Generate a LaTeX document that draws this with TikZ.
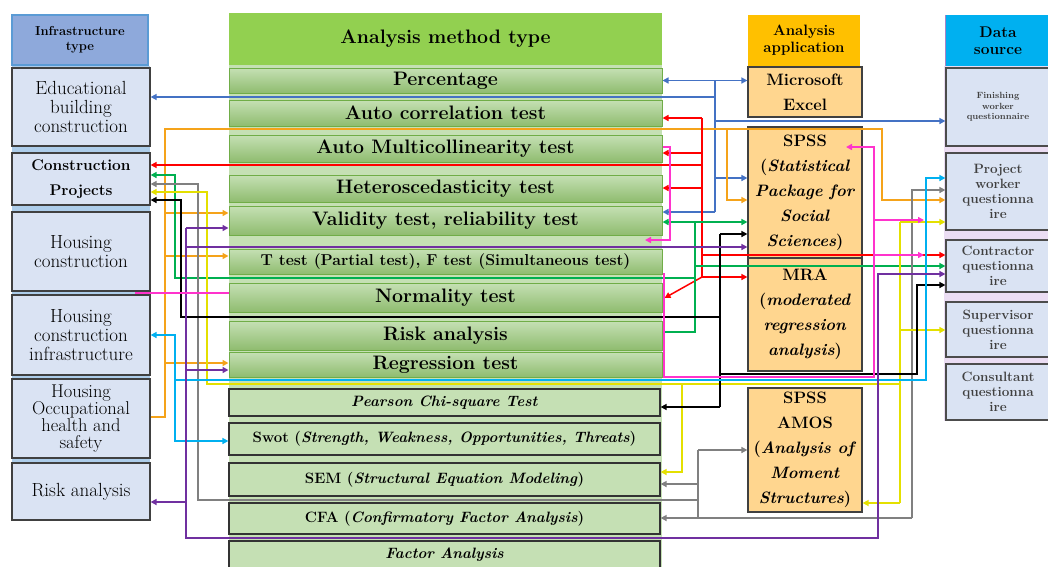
\documentclass[tikz,border=0pt]{standalone}
\usepackage{fontspec}
\usetikzlibrary{arrows.meta}
\definecolor{cBlue}{HTML}{4472C4}
\definecolor{cOrange}{HTML}{F5A31A}
\definecolor{cRed}{HTML}{FF0000}
\definecolor{cGreen}{HTML}{00B050}
\definecolor{cGray}{HTML}{808080}
\definecolor{cYellow}{HTML}{E4E000}
\definecolor{cCyan}{HTML}{00B0F0}
\definecolor{cPurple}{HTML}{7030A0}
\definecolor{cPink}{HTML}{FF33CC}
\definecolor{lblue}{HTML}{DAE3F3}
\definecolor{hblue}{HTML}{8EA9DB}
\definecolor{hblueD}{HTML}{5B9BD5}
\definecolor{hgreen}{HTML}{92D050}
\definecolor{mtop}{HTML}{C5E0B4}
\definecolor{mbot}{HTML}{8FBC6F}
\definecolor{mborder}{HTML}{70AD47}
\definecolor{lgreen}{HTML}{C5E0B4}
\definecolor{hgold}{HTML}{FFC000}
\definecolor{peach}{HTML}{FFD68F}
\definecolor{lav}{HTML}{EBDDF3}
\definecolor{dtext}{HTML}{404040}
\begin{document}
\begin{tikzpicture}[x=1pt,y=-1pt,
  hdr/.style={align=center, inner sep=1pt},
  lbox/.style={draw=black!75, line width=1.2pt, fill=lblue, align=center, inner sep=1pt,
    minimum width=138pt, font=\fontsize{19}{19}\selectfont},
  mbox/.style={draw=mborder, line width=1pt, top color=mtop, bottom color=mbot,
    minimum width=433pt, inner sep=1pt, font=\bfseries\fontsize{19.5}{21}\selectfont},
  lowbox/.style={draw=black!80, line width=1.2pt, fill=lgreen, minimum width=431pt,
    inner sep=1pt, font=\bfseries\fontsize{15}{17}\selectfont},
  abox/.style={draw=black!75, line width=1.2pt, fill=peach, minimum width=114pt, align=center,
    inner sep=1pt, font=\bfseries\fontsize{16.5}{25}\selectfont},
  dbox/.style={draw=black!70, line width=1.2pt, fill=lblue, minimum width=104pt, align=center,
    inner sep=1pt, text=dtext, font=\bfseries\fontsize{13.5}{15}\selectfont},
  conn/.style={line width=1.5pt},
  arr/.style={-{Triangle[length=6pt,width=6pt]}},
  darr/.style={{Triangle[length=6pt,width=6pt]}-{Triangle[length=6pt,width=6pt]}}
]
\useasboundingbox (0,0) rectangle (1048,566);
% column backgrounds
\fill[lgreen] (229,65) rectangle (662,570);
\fill[hblueD!50] (12,66) rectangle (150,520);
\fill[lav] (944,66) rectangle (1048,421);

% headers
\node[hdr, fill=hblue, draw=hblueD, line width=1.5pt, minimum width=136pt, minimum height=50pt,
  font=\bfseries\fontsize{13}{15}\selectfont] (hL) at (80,40) {Infrastructure\\type};
\node[hdr, fill=hgreen, minimum width=433pt, minimum height=52pt,
  font=\bfseries\fontsize{19.5}{21}\selectfont] (hM) at (445.5,39) {Analysis method type};
\node[hdr, fill=hgold, minimum width=112pt, minimum height=51pt,
  font=\bfseries\fontsize{15}{17}\selectfont] (hA) at (804,40.5) {Analysis\\application};
\node[hdr, fill=cCyan, minimum width=104pt, minimum height=51pt,
  font=\bfseries\fontsize{15.5}{17}\selectfont] (hD) at (998,40.5) {Data\\source};
\draw[cPurple!60, line width=1.2pt] (hD.north west) -- (hD.south west);

% infrastructure type
\node[lbox, minimum height=78pt] (edu) at (81,107) {Educational\\building\\construction};
\node[lbox, minimum height=52pt, font=\bfseries\fontsize{15.5}{25}\selectfont] (cp) at (81,179) {Construction\\Projects};
\node[lbox, minimum height=79pt] (hc) at (81,251.5) {Housing\\construction};
\node[lbox, minimum height=80pt] (hci) at (81,335) {Housing\\construction\\infrastructure};
\node[lbox, minimum height=79pt, font=\fontsize{18.5}{17}\selectfont] (hoh) at (81,418.5) {Housing\\Occupational\\health and\\safety};
\node[lbox, minimum height=57pt] (ra) at (81,491.5) {Risk analysis};

% analysis methods
\node[mbox, minimum height=25pt] (pct) at (445.5,80.5) {Percentage};
\node[mbox, minimum height=26pt] (ac) at (445.5,113) {Auto correlation test};
\node[mbox, minimum height=27pt] (am) at (445.5,148.5) {Auto Multicollinearity test};
\node[mbox, minimum height=27pt] (ht) at (445.5,188.5) {Heteroscedasticity test};
\node[mbox, minimum height=29pt] (vt) at (445.5,220.5) {Validity test, reliability test};
\node[mbox, minimum height=25pt, font=\bfseries\fontsize{15.8}{17}\selectfont] (tt) at (445.5,261.5) {T test (Partial test), F test (Simultaneous test)};
\node[mbox, minimum height=29pt] (nt) at (445.5,297.5) {Normality test};
\node[mbox, minimum height=29pt] (rk) at (445.5,335.5) {Risk analysis};
\node[mbox, minimum height=25pt] (rg) at (445.5,364.5) {Regression test};
\node[lowbox, minimum height=27pt] (pc) at (444.5,402.5) {\textit{Pearson Chi-square Test}};
\node[lowbox, minimum height=32pt] (sw) at (444.5,439) {Swot (\textit{Strength, Weakness, Opportunities, Threats})};
\node[lowbox, minimum height=33pt] (sem) at (444.5,479.5) {SEM (\textit{Structural Equation Modeling})};
\node[lowbox, minimum height=31pt] (cfa) at (444.5,518.5) {CFA (\textit{Confirmatory Factor Analysis})};
\node[lowbox, minimum height=28pt] (fa) at (444.5,555) {\textit{Factor Analysis}};

% analysis application
\node[abox, minimum height=50pt] (xl) at (805,92) {Microsoft\\Excel};
\node[abox, minimum height=131pt] (sp) at (805,192.5) {SPSS\\(\textit{Statistical}\\\textit{Package for}\\\textit{Social}\\\textit{Sciences})};
\node[abox, minimum height=113pt] (mra) at (805,314.5) {MRA\\(\textit{moderated}\\\textit{regression}\\\textit{analysis})};
\node[abox, minimum height=124pt] (amos) at (805,450) {SPSS\\AMOS\\(\textit{Analysis of}\\\textit{Moment}\\\textit{Structures})};

% data source
\node[dbox, minimum height=78pt, font=\bfseries\fontsize{9}{10.5}\selectfont] (fw) at (998,107) {Finishing\\worker\\questionnaire};
\node[dbox, minimum height=77pt] (pw) at (998,191.5) {Project\\worker\\questionna\\ire};
\node[dbox, minimum height=52pt] (ct) at (998,266) {Contractor\\questionna\\ire};
\node[dbox, minimum height=55pt] (sv) at (998,329.5) {Supervisor\\questionna\\ire};
\node[dbox, minimum height=56pt] (cs) at (998,392) {Consultant\\questionna\\ire};

% ---- connectors ----
% blue
\draw[conn,cBlue,darr] (pct.east) -- (xl.west |- pct.east);
\draw[conn,cBlue] (715,80.5) -- (715,212);
\draw[conn,cBlue,arr] (715,97) -- (edu.east |- 0,97);
\draw[conn,cBlue,arr] (715,121) -- (fw.west |- 0,121);
\draw[conn,cBlue,arr] (715,178) -- (sp.west |- 0,178);
\draw[conn,cBlue,arr] (715,212) -- (vt.east |- 0,212);
% orange
\draw[conn,cOrange,arr] (hoh.east |- 0,417) -- (165,417) -- (165,129) -- (882,129) -- (882,200) -- (pw.west |- 0,200);
\draw[conn,cOrange,arr] (727,129) -- (727,200) -- (sp.west |- 0,200);
\draw[conn,cOrange,arr] (165,213) -- (vt.west |- 0,213);
\draw[conn,cOrange,arr] (165,256) -- (tt.west |- 0,256);
\draw[conn,cOrange,arr] (165,363) -- (rg.west |- 0,363);
% red
\draw[conn,cRed] (702,118) -- (702,277);
\draw[conn,cRed,arr] (702,118) -- (ac.east |- 0,118);
\draw[conn,cRed,arr] (702,153) -- (am.east |- 0,153);
\draw[conn,cRed,arr] (702,165) -- (cp.east |- 0,165);
\draw[conn,cRed,arr] (702,188) -- (ht.east |- 0,188);
\draw[conn,cRed,arr] (702,255) -- (ct.west |- 0,255);
\draw[conn,cRed,arr] (702,277) -- (mra.west |- 0,277);
\draw[conn,cRed,arr] (702,277) -- ([xshift=2pt]nt.east |- 0,298);
% green
\draw[conn,cGreen,arr] (695,278) -- (175,278) -- (175,175) -- (cp.east |- 0,175);
\draw[conn,cGreen] (695,222) -- (695,332) -- (rk.east |- 0,332);
\draw[conn,cGreen,darr] (vt.east |- 0,222) -- (sp.west |- 0,222);
\draw[conn,cGreen,arr] (695,266) -- (ct.west |- 0,266);
% gray
\draw[conn,cGray,arr] (698,500) -- (198,500) -- (198,184) -- (cp.east |- 0,184);
\draw[conn,cGray] (698,450) -- (698,518);
\draw[conn,cGray,arr] (698,450) -- (amos.west |- 0,450);
\draw[conn,cGray,arr] (698,484) -- (sem.east |- 0,484);
\draw[conn,cGray,arr] (912,518) -- (cfa.east |- 0,518);
\draw[conn,cGray,arr] (912,518) -- (912,190) -- (pw.west |- 0,190);
% yellow
\draw[conn,cYellow,arr] (900,384) -- (207,384) -- (207,192) -- (cp.east |- 0,192);
\draw[conn,cYellow,arr] (682,384) -- (682,472) -- (sem.east |- 0,472);
\draw[conn,cYellow] (900,222) -- (900,503);
\draw[conn,cYellow,arr] (900,222) -- (pw.west |- 0,222);
\draw[conn,cYellow,arr] (900,330) -- (sv.west |- 0,330);
\draw[conn,cYellow,arr] (900,503) -- (amos.east |- 0,503);
% black
\draw[conn,black,arr] (720,317) -- (181,317) -- (181,200) -- (cp.east |- 0,200);
\draw[conn,black] (720,234) -- (720,407);
\draw[conn,black,arr] (720,234) -- (sp.west |- 0,234);
\draw[conn,black,arr] (720,407) -- (pc.east |- 0,407);
\draw[conn,black,arr] (720,374) -- (917,374) -- (917,285) -- (ct.west |- 0,285);
% cyan
\draw[conn,cCyan,darr] (hci.east |- 0,335) -- (175,335) -- (175,441) -- (sw.west |- 0,441);
\draw[conn,cCyan,arr] (175,380) -- (926,380) -- (926,178) -- (pw.west |- 0,178);
% purple
\draw[conn,cPurple,arr] (186,228) -- (186,538) -- (878,538) -- (878,274) -- (ct.west |- 0,274);
\draw[conn,cPurple,arr] (186,502) -- (ra.east |- 0,502);
\draw[conn,cPurple,arr] (186,228) -- (vt.west |- 0,228);
\draw[conn,cPurple,arr] (186,247) -- (sp.west |- 0,247);
\draw[conn,cPurple,arr] (186,370) -- (rg.west |- 0,370);
% pink
\coordinate (pkL) at (135,293);
\coordinate (pkA) at (645,240);
\coordinate (pkB) at (846,147);
\coordinate (pkC) at (924,220);
\coordinate (pkD) at (924,255);
\draw[conn,cPink] (pkL) -- (nt.west |- pkL);
\draw[conn,cPink,arr] (am.east |- 0,147) -- (670,147) -- (670,240) -- (pkA);
\draw[conn,cPink,arr] (664,273) -- (664,377) -- (874,377) -- (874,147) -- (pkB);
\draw[conn,cPink,arr] (874,220) -- (pkC);
\draw[conn,cPink,arr] (874,255) -- (pkD);
\end{tikzpicture}
\end{document}
